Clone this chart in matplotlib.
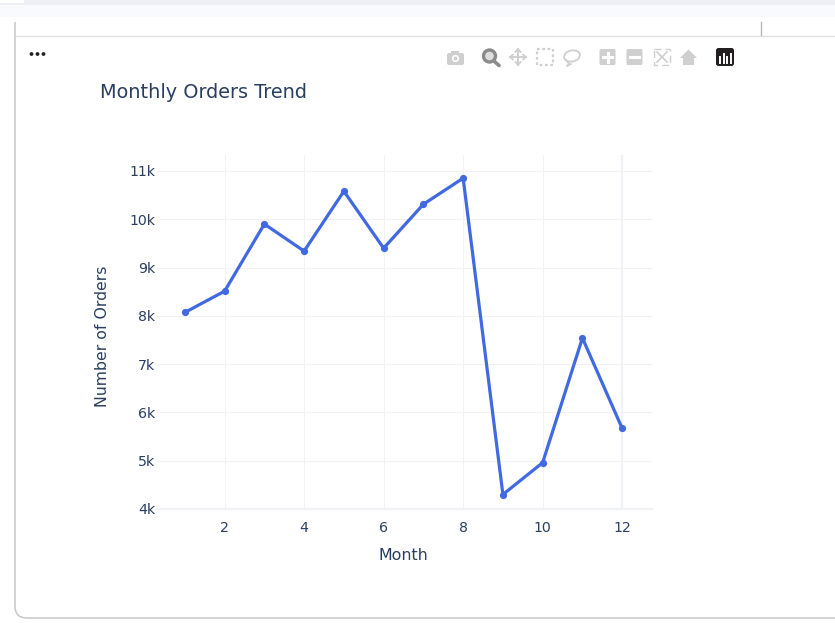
#!/usr/bin/env python3
import matplotlib
matplotlib.use("Agg")
from matplotlib import pyplot as plt
from matplotlib.patches import Rectangle, FancyBboxPatch, Circle, Polygon, Ellipse

months = [1, 2, 3, 4, 5, 6, 7, 8, 9, 10, 11, 12]
orders = [8070, 8510, 9900, 9340, 10580, 9400, 10310, 10850, 4300, 4960, 7540, 5670]
x_ticks = [2, 4, 6, 8, 10, 12]
y_ticks = [4000, 5000, 6000, 7000, 8000, 9000, 10000, 11000]
y_labels = ["4k", "5k", "6k", "7k", "8k", "9k", "10k", "11k"]

W, H = 835, 623
TXT = "#2a3f5f"
GRID = "#f0f2f6"
ICON = "#cfcfcf"

plt.rcParams["font.family"] = ["DejaVu Sans"]
fig = plt.figure(figsize=(W / 100, H / 100), dpi=100, facecolor="white")

# page chrome, in pixel coordinates
bg = fig.add_axes([0, 0, 1, 1], zorder=0)
bg.set_xlim(0, W)
bg.set_ylim(H, 0)
bg.axis("off")
# card runs off the top and right, only left and bottom edges show
bg.add_patch(FancyBboxPatch((15, -40), W + 60, 658, boxstyle="round,pad=0,rounding_size=12",
                            fc="white", ec="#c8c8c8", lw=1.1, zorder=1))
bg.add_patch(Rectangle((0, 0), W, 22, color="white", lw=0, zorder=2))
bg.add_patch(Rectangle((0, 0), W, 5, color="#eef0f6", lw=0, zorder=3))
bg.add_patch(Rectangle((0, 5), W, 12, color="#f9fafd", lw=0, zorder=3))
bg.add_patch(Rectangle((0, 0), 24, 3, color="#ffffff", lw=0, zorder=4))
bg.plot([16, W], [35.5, 35.5], color="#e2e2e2", lw=1, zorder=3)
bg.plot([760.5, 760.5], [22, 35], color="#b8b8b8", lw=1, zorder=3)
for px in [31.5, 37.5, 43.5]:
    bg.add_patch(Circle((px, 54), 1.9, color="#222222", lw=0, zorder=3))

# plotly modebar, drawn roughly
bg.add_patch(FancyBboxPatch((447, 53), 17, 12, boxstyle="round,pad=0,rounding_size=2", fc=ICON, ec="none"))
bg.add_patch(Rectangle((451, 50.5), 8, 3, color=ICON, lw=0))
bg.add_patch(Circle((455.5, 58.5), 3.6, fc="white", ec="none"))
bg.add_patch(Circle((455.5, 58.5), 2, fc=ICON, ec="none"))
bg.add_patch(Circle((489.5, 56), 6, fc="#dddddd", ec="#8a8a8a", lw=2.4))
bg.plot([494, 499], [61, 65.5], color="#8a8a8a", lw=2.6, solid_capstyle="round")
bg.plot([510, 526], [57, 57], color=ICON, lw=1.4)
bg.plot([518, 518], [49, 65], color=ICON, lw=1.4)
for a, b in [((510, 57), (513, 54.5)), ((510, 57), (513, 59.5)), ((526, 57), (523, 54.5)), ((526, 57), (523, 59.5)),
             ((518, 49), (515.5, 52)), ((518, 49), (520.5, 52)), ((518, 65), (515.5, 62)), ((518, 65), (520.5, 62))]:
    bg.plot([a[0], b[0]], [a[1], b[1]], color=ICON, lw=1.2)
bg.add_patch(Rectangle((537, 49), 16, 16, fc="none", ec=ICON, lw=1.6, ls=(0, (1.2, 1.2))))
bg.add_patch(Ellipse((572, 56), 16, 11, angle=-12, fc="none", ec=ICON, lw=1.3))
bg.plot([566, 569, 567, 571], [60, 64, 66, 64], color=ICON, lw=1.2)
for cx in [607.5, 634.5]:
    bg.add_patch(FancyBboxPatch((cx - 8, 49), 16, 16, boxstyle="round,pad=0,rounding_size=1.5", fc=ICON, ec="none"))
    bg.plot([cx - 4.5, cx + 4.5], [57, 57], color="white", lw=2.2)
bg.plot([607.5, 607.5], [52.5, 61.5], color="white", lw=2.2)
bg.add_patch(Rectangle((654, 49), 16, 16, fc="none", ec=ICON, lw=1, ls=(0, (5, 3))))
bg.plot([657, 667], [52, 62], color=ICON, lw=1.2)
bg.plot([667, 657], [52, 62], color=ICON, lw=1.2)
bg.add_patch(Polygon([[680, 58], [688.5, 49.5], [697, 58]], color=ICON, lw=0))
bg.add_patch(Rectangle((683, 58), 11, 6.5, color=ICON, lw=0))
bg.add_patch(FancyBboxPatch((716, 48), 18, 18, boxstyle="round,pad=0,rounding_size=2.5", fc="#231f20", ec="none"))
for bx, top in [(720, 57), (723.5, 54), (727, 57), (730.5, 54)]:
    bg.plot([bx, bx], [top, 63], color="white", lw=1.4)

# plot area
left, right, top, bottom = 157, 652, 155, 509
ax = fig.add_axes([left / W, 1 - bottom / H, (right - left) / W, (bottom - top) / H], zorder=1)
ax.patch.set_alpha(0)
ax.plot(months, orders, color="#4169e1", lw=2.3, marker="o", ms=5.2, mew=0, clip_on=False, zorder=3)
ax.set_xlim(0.3, 12.75)
ax.set_ylim(4000, 11330)
ax.set_xticks(x_ticks)
ax.set_yticks(y_ticks)
ax.set_yticklabels(y_labels)
ax.grid(True, color=GRID, lw=0.8)
ax.set_axisbelow(True)
for s in ["top", "right", "left"]:
    ax.spines[s].set_visible(False)
ax.spines["bottom"].set_color(GRID)
ax.spines["bottom"].set_linewidth(1.6)
ax.tick_params(length=0, labelcolor=TXT, labelsize=10.2, pad=9)
ax.tick_params(axis="y", pad=1)
ax.get_xgridlines()[-1].set_linewidth(1.6)

fig.text(100 / W, 1 - 93 / H, "Monthly Orders Trend", color=TXT, fontsize=13.9, ha="left", va="center")
fig.text(403.5 / W, 1 - 555 / H, "Month", color=TXT, fontsize=11.4, ha="center", va="center")
fig.text(102.5 / W, 1 - 336 / H, "Number of Orders", color=TXT, fontsize=11.3, ha="center", va="center", rotation=90)

fig.savefig("out.png", dpi=100)
